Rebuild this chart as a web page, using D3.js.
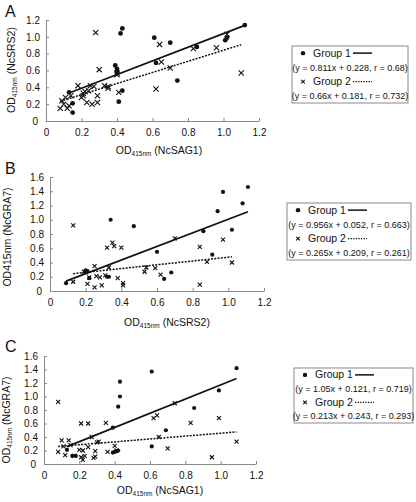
<!DOCTYPE html>
<html><head><meta charset="utf-8">
<script src="https://cdn.jsdelivr.net/npm/d3@7"></script>
<style>
body{margin:0;background:#fff;}
svg text{font-family:"Liberation Sans",Arial,sans-serif;fill:#111;}
</style></head><body>
<svg id="c" width="416" height="502"></svg>
<script>
// ---------- DATA ----------
const xTicks = [0, 0.2, 0.4, 0.6, 0.8, 1.0, 1.2];
const yTicksA = [0, 0.2, 0.4, 0.6, 0.8, 1.0, 1.2];
const yTicksBC = [0, 0.2, 0.4, 0.6, 0.8, 1.0, 1.2, 1.4, 1.6];
const groupNames = ["Group 1", "Group 2"];

// Panel A: NcSAG1 (x) vs NcSRS2 (y)
const A_g1 = [[0.13,0.34],[0.15,0.21],[0.15,0.10],[0.39,0.66],[0.40,0.62],[0.40,0.59],[0.41,0.23],[0.43,0.36],
  [0.42,1.04],[0.43,1.10],[0.61,0.99],[0.62,0.69],[0.70,0.93],[0.74,0.48],[0.85,0.88],[1.01,0.96],[1.02,0.99],[1.12,1.14]];
const A_g2 = [[0.08,0.15],[0.09,0.24],[0.10,0.20],[0.11,0.28],[0.12,0.15],[0.13,0.18],[0.14,0.30],[0.18,0.42],
  [0.20,0.28],[0.21,0.33],[0.21,0.30],[0.22,0.35],[0.23,0.22],[0.24,0.36],[0.25,0.42],[0.26,0.20],[0.27,0.41],
  [0.28,1.05],[0.29,0.30],[0.29,0.22],[0.30,0.61],[0.33,0.42],[0.35,0.39],[0.35,0.41],[0.40,0.55],[0.40,0.57],
  [0.41,0.34],[0.62,0.38],[0.64,0.91],[0.65,0.70],[0.70,0.63],[0.83,0.86],[0.96,0.87],[1.02,1.03],[1.10,0.57]];
const A_fit = [[0.811,0.228],[0.66,0.181]];
const A_eq = ["(y = 0.811x + 0.228, r = 0.68)", "(y = 0.66x + 0.181, r = 0.732)"];

// Panel B: NcSRS2 (x) vs NcGRA7 (y)
const B_g1 = [[0.09,0.11],[0.20,0.29],[0.21,0.28],[0.22,0.18],[0.34,1.00],[0.32,0.20],[0.33,0.20],[0.47,0.91],
  [0.60,0.55],[0.64,0.17],[0.68,0.26],[0.86,0.84],[0.91,0.51],[0.94,1.12],[0.97,1.39],[1.02,0.86],[1.08,1.23],[1.11,1.46]];
const B_g2 = [[0.13,0.92],[0.13,0.13],[0.19,0.27],[0.20,0.26],[0.21,0.10],[0.22,0.19],[0.25,0.05],[0.25,0.35],
  [0.26,0.21],[0.28,0.19],[0.29,0.08],[0.31,0.22],[0.32,0.61],[0.33,0.33],[0.35,0.68],[0.36,0.63],[0.38,0.18],
  [0.40,0.61],[0.41,0.08],[0.41,0.11],[0.53,0.27],[0.54,0.33],[0.59,0.32],[0.62,0.23],[0.70,0.74],[0.84,0.62],
  [0.84,0.09],[0.88,0.41],[0.97,0.72],[1.02,0.40]];
const B_fit = [[0.956,0.052],[0.265,0.209]];
const B_eq = ["(y = 0.956x + 0.052, r = 0.663)", "(y = 0.265x + 0.209, r = 0.261)"];

// Panel C: NcSAG1 (x) vs NcGRA7 (y)
const C_g1 = [[0.13,0.21],[0.16,0.12],[0.18,0.12],[0.39,0.17],[0.40,0.18],[0.41,0.19],[0.42,0.20],[0.39,0.54],
  [0.42,0.85],[0.43,1.00],[0.43,1.22],[0.61,1.37],[0.61,0.26],[0.69,0.50],[0.85,0.83],[0.99,1.09],[1.09,1.42]];
const C_g2 = [[0.08,0.92],[0.08,0.18],[0.10,0.35],[0.11,0.26],[0.12,0.13],[0.14,0.35],[0.15,0.28],[0.17,0.12],
  [0.20,0.21],[0.21,0.10],[0.21,0.60],[0.22,0.06],[0.22,0.20],[0.23,0.12],[0.25,0.60],[0.25,0.25],[0.27,0.40],
  [0.28,0.09],[0.29,0.19],[0.29,0.11],[0.30,0.32],[0.31,0.33],[0.35,0.61],[0.36,0.18],[0.40,0.27],[0.41,0.20],
  [0.62,0.68],[0.64,0.72],[0.65,0.40],[0.70,0.23],[0.74,0.90],[0.83,0.61],[0.95,0.10],[0.99,0.68],[1.09,0.33]];
const C_fit = [[1.05,0.121],[0.213,0.243]];
const C_eq = ["(y = 1.05x + 0.121, r = 0.719)", "(y = 0.213x + 0.243, r = 0.293)"];

// ---------- LAYOUT ----------
const panels = [
  {letter:"A", g1:A_g1, g2:A_g2, fit:A_fit, eq:A_eq, yTicks:yTicksA, yMax:1.2,
   xr:[46,259], yr:[121,20], sub:true, xName:"(NcSAG1)", yName:"(NcSRS2)",
   lx:5, ly:17, xt:[159,154], yt:[15,70], box:[292,46,116,57], r:2.4, s:2.6},
  {letter:"B", g1:B_g1, g2:B_g2, fit:B_fit, eq:B_eq, yTicks:yTicksBC, yMax:1.6,
   xr:[50,264], yr:[291,177], sub:true, subY:false, xName:"(NcSRS2)", yName:"(NcGRA7)",
   lx:5, ly:174, xt:[167,326], yt:[11,237], box:[287,203,124,57], r:2.1, s:2.0},
  {letter:"C", g1:C_g1, g2:C_g2, fit:C_fit, eq:C_eq, yTicks:yTicksBC, yMax:1.6,
   xr:[44,256], yr:[464,356], sub:true, xName:"(NcSAG1)", yName:"(NcGRA7)",
   lx:5, ly:352, xt:[160,494], yt:[10,420], box:[294,368,119,55], r:2.1, s:2.0}
];

const svg = d3.select("#c");
const fmt = d => d === 0 ? "0" : d.toFixed(1);

function odTitle(sel, name, subscript){
  if (subscript){
    sel.append("tspan").text("OD");
    sel.append("tspan").attr("font-size","6.5px").attr("dy","2").text("415nm");
    sel.append("tspan").attr("dy","-2").text(" " + name);
  } else {
    sel.text("OD415nm " + name);
  }
}

function cross(g, x, y, s){
  g.append("path").attr("d",`M${x-s},${y-s}L${x+s},${y+s}M${x-s},${y+s}L${x+s},${y-s}`)
    .attr("stroke","#111").attr("stroke-width",1.1).attr("fill","none");
}

panels.forEach(p => {
  const g = svg.append("g");
  const x = d3.scaleLinear().domain([0,1.2]).range(p.xr);
  const y = d3.scaleLinear().domain([0,p.yMax]).range(p.yr);

  // axes
  const ax = g.append("g").attr("transform",`translate(0,${p.yr[0]})`)
    .call(d3.axisBottom(x).tickValues(xTicks).tickFormat(fmt).tickSizeInner(-3).tickSizeOuter(0).tickPadding(8));
  const ay = g.append("g").attr("transform",`translate(${p.xr[0]},0)`)
    .call(d3.axisLeft(y).tickValues(p.yTicks).tickFormat(fmt).tickSizeInner(-3).tickSizeOuter(0).tickPadding(6));
  [ax,ay].forEach(a => {
    a.select(".domain").attr("stroke","#8a8a8a");
    a.selectAll(".tick line").attr("stroke","#8a8a8a");
    a.selectAll(".tick text").attr("font-size","10px").attr("fill","#111")
      .attr("font-family","Liberation Sans, Arial, sans-serif");
  });
  ay.selectAll(".tick").filter(d => d===0).select("text").attr("dx","-2");

  // fit lines
  [p.g1, p.g2].forEach((pts, i) => {
    const [m,b] = p.fit[i];
    const ext = d3.extent(pts, d => d[0]);
    g.append("line")
      .attr("x1", x(ext[0])).attr("y1", y(m*ext[0]+b))
      .attr("x2", x(ext[1])).attr("y2", y(m*ext[1]+b))
      .attr("stroke","#111")
      .attr("stroke-width", i===0 ? 1.7 : 1.5)
      .attr("stroke-dasharray", i===0 ? null : "2,1.3");
  });

  // points
  p.g1.forEach(d => g.append("circle").attr("cx",x(d[0])).attr("cy",y(d[1])).attr("r",p.r).attr("fill","#111"));
  p.g2.forEach(d => cross(g, x(d[0]), y(d[1]), p.s));

  // panel letter
  g.append("text").attr("x",p.lx).attr("y",p.ly).attr("font-size","16px").text(p.letter);

  // axis titles
  const xt = g.append("text").attr("x",p.xt[0]).attr("y",p.xt[1]).attr("text-anchor","middle").attr("font-size","10.5px");
  odTitle(xt, p.xName, true);
  const yt = g.append("text").attr("transform",`translate(${p.yt[0]},${p.yt[1]}) rotate(-90)`)
    .attr("text-anchor","middle").attr("font-size","10.5px");
  odTitle(yt, p.yName, p.subY !== false);

  // legend
  const [bx,by,bw,bh] = p.box;
  const lg = g.append("g");
  lg.append("rect").attr("x",bx).attr("y",by).attr("width",bw).attr("height",bh)
    .attr("fill","#fff").attr("stroke","#8a8a8a").attr("stroke-width",1);
  const rowH = bh/4;
  [0,1].forEach(i => {
    const ry = by + rowH*(2*i) + rowH*0.5;
    if (i===0) lg.append("circle").attr("cx",bx+11).attr("cy",ry).attr("r",2.2).attr("fill","#111");
    else cross(lg, bx+11, ry, 1.8);
    lg.append("text").attr("x",bx+21).attr("y",ry+3.5).attr("font-size","10.5px").text(groupNames[i]);
    lg.append("line").attr("x1",bx+61).attr("x2",bx+80).attr("y1",ry).attr("y2",ry)
      .attr("stroke","#111").attr("stroke-width", i===0?1.5:1.2).attr("stroke-dasharray", i===0?null:"1.3,1.3");
    lg.append("text").attr("x",bx+bw/2).attr("y",ry+rowH+3.2).attr("text-anchor","middle")
      .attr("font-size","9px").text(p.eq[i]);
  });
});
</script></body></html>
